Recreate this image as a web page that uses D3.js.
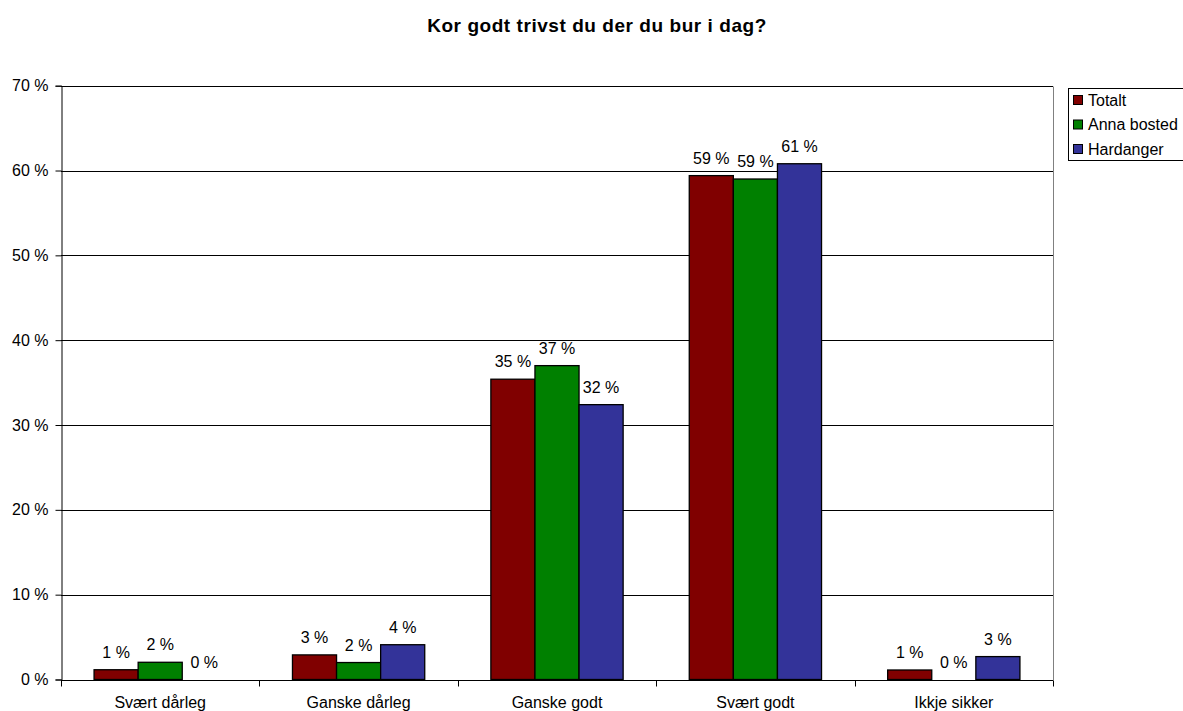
<!DOCTYPE html>
<html><head><meta charset="utf-8">
<script src="https://cdn.jsdelivr.net/npm/d3@7"></script>
<style>body{margin:0;background:#fff;}svg{display:block;font-family:"Liberation Sans",Arial,sans-serif;}</style>
</head><body>
<script>
const title = "Kor godt trivst du der du bur i dag?";
const categories = ["Svært dårleg","Ganske dårleg","Ganske godt","Svært godt","Ikkje sikker"];
const seriesNames = ["Totalt","Anna bosted","Hardanger"];
const totalt = [1.15, 2.9, 35.4, 59.4, 1.12];
const annaBosted = [2.03, 2.0, 37.0, 59.0, 0];
const hardanger = [0, 4.1, 32.4, 60.8, 2.7];
const labelsTotalt = ["1 %","3 %","35 %","59 %","1 %"];
const labelsAnna = ["2 %","2 %","37 %","59 %","0 %"];
const labelsHardanger = ["0 %","4 %","32 %","61 %","3 %"];
const yTicks = [0,10,20,30,40,50,60,70];
const colors = ["#800000","#008000","#333399"];

const W=1183,H=711;
const m={left:61,right:W-1053,top:85.7,bottom:H-679.5};
const svg=d3.select("body").append("svg").attr("width",W).attr("height",H);
const series=[totalt,annaBosted,hardanger];
const labels=[labelsTotalt,labelsAnna,labelsHardanger];

const x0=d3.scaleBand().domain(categories).range([m.left,W-m.right]).paddingInner(1/3).paddingOuter(1/6);
const x1=d3.scaleBand().domain(seriesNames).range([0,x0.bandwidth()]);
const y=d3.scaleLinear().domain([0,70]).range([H-m.bottom,m.top]);

svg.append("text").attr("x",597).attr("y",32).attr("text-anchor","middle")
  .attr("font-weight","bold").attr("font-size",19).attr("letter-spacing",0.55).text(title);

// gridlines
svg.append("g").selectAll("line").data(yTicks.filter(d=>d>0)).join("line")
  .attr("x1",m.left).attr("x2",W-m.right)
  .attr("y1",d=>Math.round(y(d))+0.5).attr("y2",d=>Math.round(y(d))+0.5)
  .attr("stroke","#000").attr("stroke-width",1);
// right border
svg.append("line").attr("x1",W-m.right+0.5).attr("x2",W-m.right+0.5)
  .attr("y1",Math.round(y(70))+0.5).attr("y2",Math.round(y(0))+0.5).attr("stroke","#808080");

// y axis
const yAxis=d3.axisLeft(y).tickValues(yTicks).tickFormat(d=>d+" %").tickSize(6).tickPadding(7);
const gy=svg.append("g").attr("transform",`translate(${m.left+0.5},0)`).call(yAxis);
gy.select(".domain").attr("stroke","#000");
gy.selectAll(".tick line").attr("stroke","#000");
gy.selectAll(".tick text").attr("font-size",16).attr("fill","#000").attr("font-family","Liberation Sans, Arial, sans-serif");

// bars
categories.forEach((c,ci)=>{
  series.forEach((s,si)=>{
    const v=s[ci];
    const bx=x0(c)+x1(seriesNames[si]);
    if(v>0){
      svg.append("rect").attr("x",bx).attr("y",y(v)).attr("width",x1.bandwidth())
        .attr("height",y(0)-y(v)).attr("fill",colors[si]).attr("stroke","#000").attr("stroke-width",1.3);
    }
    svg.append("text").attr("x",bx+x1.bandwidth()/2).attr("y",y(v)-12)
      .attr("text-anchor","middle").attr("font-size",16).text(labels[si][ci]);
  });
});

// x axis
const xAxisScale=d3.scaleLinear().domain([0,5]).range([m.left,W-m.right]);
const gx=svg.append("g").attr("transform",`translate(0,${Math.round(y(0))+0.5})`);
gx.append("line").attr("x1",m.left).attr("x2",W-m.right).attr("stroke","#000");
gx.selectAll("line.tk").data(d3.range(6)).join("line").attr("class","tk")
  .attr("x1",d=>Math.round(xAxisScale(d))+0.5).attr("x2",d=>Math.round(xAxisScale(d))+0.5)
  .attr("y1",0).attr("y2",6).attr("stroke","#000");
gx.selectAll("text").data(categories).join("text")
  .attr("x",d=>x0(d)+x0.bandwidth()/2).attr("y",27).attr("text-anchor","middle")
  .attr("font-size",16).text(d=>d);

// legend
const lg=svg.append("g");
lg.append("rect").attr("x",1068.5).attr("y",88.5).attr("width",130).attr("height",72)
  .attr("fill","#fff").attr("stroke","#000");
seriesNames.forEach((n,i)=>{
  const cy=100+i*24.5;
  lg.append("rect").attr("x",1073.5).attr("y",cy-4.5).attr("width",9).attr("height",9)
    .attr("fill",colors[i]).attr("stroke","#000").attr("stroke-width",1);
  lg.append("text").attr("x",1088).attr("y",cy+5.5).attr("font-size",16).text(n);
});
</script>
</body></html>
